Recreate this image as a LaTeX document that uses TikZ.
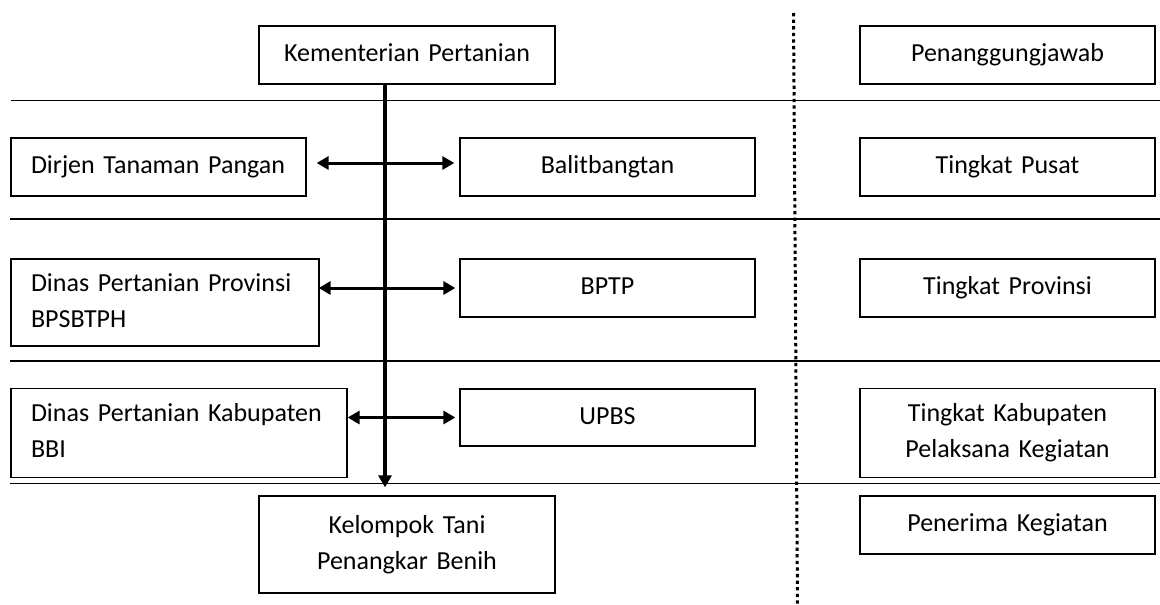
\documentclass[tikz,border=0pt]{standalone}
\usepackage{fontspec}
\setmainfont{Carlito}
\usetikzlibrary{arrows.meta}
\newcommand{\mystrut}{\rule[-11pt]{0pt}{35pt}}
\begin{document}
\begin{tikzpicture}[x=1pt,y=-1pt,
  box/.style={draw, line width=1.3pt, inner ysep=0pt, inner xsep=20pt,
    font=\fontsize{26}{34}\selectfont, align=center,
    execute at begin node=\mystrut, execute at end node=\mystrut},
  lbox/.style={box, align=left},
  sep/.style={line width=1.3pt},
  head/.style={-{Triangle[length=12pt,width=13pt]}},
  dbl/.style={line width=3pt, {Triangle[length=12pt,width=13pt]}-{Triangle[length=12pt,width=13pt]}},
  vline/.style={line width=3.2pt, head},
  dots/.style={line width=3pt, dash pattern=on 3.3pt off 3.3pt}]
\useasboundingbox (0,0) rectangle (1160,605);
% separators
\draw[sep] (11,100.7) -- (1160,100.7);
\draw[sep] (10,219) -- (1160,219);
\draw[sep] (10,361) -- (1160,361);
\draw[sep] (10,483.5) -- (1160,483.5);
% dotted divider
\draw[dots] (793.5,13) -- (797.5,605);
% left/middle nodes
\node[box, text width=256pt, minimum height=58pt] (kem) at (407,55) {Kementerian Pertanian};
\node[lbox, text width=255pt, minimum height=58pt] (dirjen) at (158.5,167) {Dirjen Tanaman Pangan};
\node[box, text width=255pt, minimum height=58pt] (balit) at (607.5,167) {Balitbangtan};
\node[lbox, text width=268pt, minimum height=87pt] (dprov) at (165,302.5) {Dinas Pertanian Provinsi\\BPSBTPH};
\node[box, text width=255pt, minimum height=58pt] (bptp) at (607.5,288) {BPTP};
\node[lbox, text width=296pt, minimum height=89pt] (dkab) at (179,432.7) {Dinas Pertanian Kabupaten\\BBI};
\node[box, text width=255pt, minimum height=57pt] (upbs) at (607.5,417.5) {UPBS};
\node[box, text width=256pt, minimum height=97pt] (kel) at (407,544.5) {Kelompok Tani\\Penangkar Benih};
% right column
\node[box, text width=255pt, minimum height=58pt] (pj) at (1007.5,55) {Penanggungjawab};
\node[box, text width=255pt, minimum height=58pt] (tpusat) at (1007.5,167) {Tingkat Pusat};
\node[box, text width=255pt, minimum height=58pt] (tprov) at (1007.5,288) {Tingkat Provinsi};
\node[box, text width=255pt, minimum height=89pt] (tkab) at (1007.5,433) {Tingkat Kabupaten\\Pelaksana Kegiatan};
\node[box, text width=255pt, minimum height=58pt] (pen) at (1007.5,525) {Penerima Kegiatan};
% connectors
\coordinate (vx) at (385,0);
\draw[vline, shorten >=8pt] (kem.south -| vx) -- (kel.north -| vx);
\draw[dbl, shorten <=10pt, shorten >=5pt] ([yshift=4pt]dirjen.east) -- ([yshift=4pt]balit.west);
\draw[dbl, shorten <=-1pt, shorten >=4pt] (dprov.east |- bptp.west) -- (bptp.west);
\draw[dbl, shorten <=0pt, shorten >=4pt] (dkab.east |- upbs.west) -- (upbs.west);
\end{tikzpicture}
\end{document}
